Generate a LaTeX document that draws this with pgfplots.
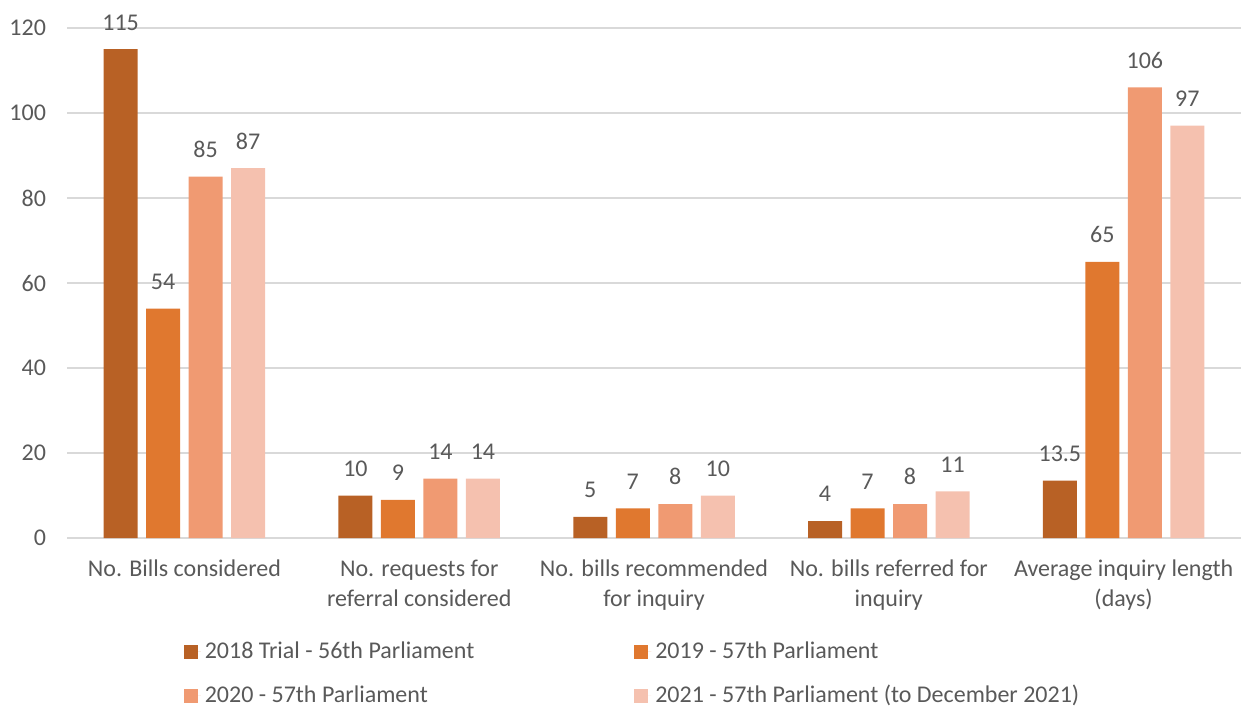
\documentclass[border=0pt]{standalone}
\usepackage{fontspec}
\setmainfont{Carlito}
\usepackage{pgfplots}
\pgfplotsset{compat=1.18}
\definecolor{cA}{HTML}{B86125}
\definecolor{cB}{HTML}{E0782F}
\definecolor{cC}{HTML}{F09A72}
\definecolor{cD}{HTML}{F5C1AF}
\definecolor{txt}{HTML}{595959}
\definecolor{grd}{HTML}{D9D9D9}
\begin{document}
\begin{tikzpicture}
\useasboundingbox (-33.5pt,-84.5pt) rectangle (587pt,269pt);
\begin{axis}[
  at={(0,0)}, anchor=south west,
  scale only axis, width=587pt, height=255pt,
  ymin=0, ymax=120, ytick={0,20,...,120},
  xmin=-0.5, xmax=4.5, xtick={0,1,2,3,4},
  xticklabels={No. Bills considered, No. requests for\\referral considered, No. bills recommended\\for inquiry, No. bills referred for\\inquiry, Average inquiry length\\(days)},
  /pgf/number format/assume math mode=true,
  font=\fontsize{12pt}{15pt}\selectfont,
  tick label style={font=\fontsize{12pt}{15pt}\selectfont, text=txt},
  xticklabel style={align=center, yshift=-7.5pt},
  yticklabel style={xshift=-7pt},
  major tick length=0pt,
  ymajorgrids, grid style={grd, line width=0.75pt},
  axis x line*=bottom, axis y line*=left,
  y axis line style={draw=none},
  x axis line style={grd, line width=0.75pt, -},
  ybar=4.25pt, bar width=17pt,
  nodes near coords,
  every node near coord/.append style={font=\fontsize{12pt}{14pt}\selectfont, text=txt, yshift=6pt},
  legend columns=2,
  legend cell align=left,
  legend style={at={(0.094,-0.187)}, anchor=north west, draw=none, fill=none,
    font=\fontsize{12pt}{14pt}\selectfont, text=txt,
    /tikz/every even column/.append style={column sep=78pt},
    row sep=8pt},
  legend image code/.code={\fill[#1] (0pt,-3.5pt) rectangle (7pt,3.5pt); \path (0pt,0pt) -- (8.5pt,0pt);},
]
\addplot[fill=cA, draw=none] coordinates {(0,115) (1,10) (2,5) (3,4) (4,13.5)};
\addplot[fill=cB, draw=none] coordinates {(0,54) (1,9) (2,7) (3,7) (4,65)};
\addplot[fill=cC, draw=none] coordinates {(0,85) (1,14) (2,8) (3,8) (4,106)};
\addplot[fill=cD, draw=none] coordinates {(0,87) (1,14) (2,10) (3,11) (4,97)};
\legend{2018 Trial - 56th Parliament, 2019 - 57th Parliament, 2020 - 57th Parliament, 2021 - 57th Parliament (to December 2021)}
\end{axis}
\end{tikzpicture}
\end{document}
